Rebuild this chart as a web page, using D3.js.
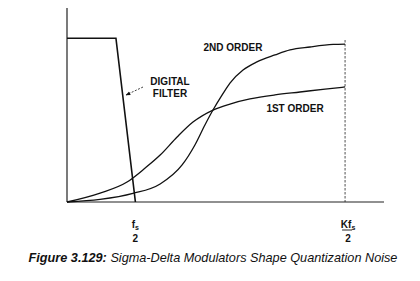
<!DOCTYPE html>
<html><head><meta charset="utf-8">
<script src="https://cdn.jsdelivr.net/npm/d3@7"></script>
<style>body{margin:0;background:#fff}svg{display:block}text{font-family:"Liberation Sans",Arial,sans-serif;fill:#111}</style>
</head><body><svg id="c" width="420" height="281"></svg>
<script>
// normalized frequency (Kfs/2 = 1) and noise amplitude (0..1)
const firstOrderX = [0,0.119,0.216,0.281,0.335,0.396,0.453,0.525,0.586,0.658,0.748,0.838,0.928,1.0];
const firstOrderY = [0,0.046,0.103,0.175,0.242,0.335,0.412,0.474,0.505,0.531,0.552,0.567,0.582,0.593];
const secondOrderX = [0,0.119,0.237,0.335,0.414,0.460,0.496,0.525,0.558,0.586,0.633,0.683,0.748,0.802,0.874,0.957,1.0];
const secondOrderY = [0,0.013,0.044,0.093,0.191,0.294,0.397,0.474,0.552,0.613,0.680,0.722,0.758,0.784,0.799,0.812,0.814];
const filterX = [0,0.176,0.246];
const filterY = [0.844,0.844,0];
const fsHalf = 0.246, kfsHalf = 1.0;
const seriesLabels = ["2ND ORDER","1ST ORDER"];
const filterLabel = ["DIGITAL","FILTER"];
const caption = ["Figure 3.129:"," Sigma-Delta Modulators Shape Quantization Noise"];

const svg = d3.select("#c");
const x = d3.scaleLinear().domain([0,1.14]).range([67,384]);
const y = d3.scaleLinear().domain([0,1]).range([202,8]);

// axes
svg.append("line").attr("x1",x(0)).attr("x2",x(0)).attr("y1",y(1)).attr("y2",y(0)).attr("stroke","#222").attr("stroke-width",1.2);
svg.append("line").attr("x1",x(0)).attr("x2",x(1.14)).attr("y1",y(0)).attr("y2",y(0)).attr("stroke","#222").attr("stroke-width",1.2);
// dashed Kfs/2 line
svg.append("line").attr("x1",x(kfsHalf)).attr("x2",x(kfsHalf)).attr("y1",y(0.835)).attr("y2",y(0)).attr("stroke","#222").attr("stroke-width",0.8).attr("stroke-dasharray","2.5,1.5");

const line = d3.line().x(d=>x(d[0])).y(d=>y(d[1]));
const smooth = d3.line().x(d=>x(d[0])).y(d=>y(d[1])).curve(d3.curveMonotoneX);
svg.append("path").attr("d",line(filterX.map((v,i)=>[v,filterY[i]]))).attr("fill","none").attr("stroke","#111").attr("stroke-width",1.6);
svg.append("path").attr("d",smooth(firstOrderX.map((v,i)=>[v,firstOrderY[i]]))).attr("fill","none").attr("stroke","#111").attr("stroke-width",1.3);
svg.append("path").attr("d",smooth(secondOrderX.map((v,i)=>[v,secondOrderY[i]]))).attr("fill","none").attr("stroke","#111").attr("stroke-width",1.3);

// labels
const lab = (t,px,py,anchor="middle") => svg.append("text").attr("x",px).attr("y",py).attr("text-anchor",anchor).attr("font-size",10).attr("font-weight","bold").text(t);
lab(seriesLabels[0],233,51);
lab(seriesLabels[1],295,112);
lab(filterLabel[0],170,85);
lab(filterLabel[1],170,97);

// arrow
svg.append("defs").append("marker").attr("id","ah").attr("viewBox","0 0 10 10").attr("refX",9).attr("refY",5)
  .attr("markerWidth",6).attr("markerHeight",6).attr("orient","auto")
  .append("path").attr("d","M0,1 L10,5 L0,9 z").attr("fill","#111");
svg.append("line").attr("x1",143).attr("y1",87).attr("x2",126).attr("y2",95).attr("stroke","#111").attr("stroke-width",0.8)
  .attr("stroke-dasharray","2,1.5").attr("marker-end","url(#ah)");

// tick labels
function fracLabel(cx, prefix, bar){
  const t = svg.append("text").attr("x",cx).attr("y",228).attr("text-anchor","middle").attr("font-size",10).attr("font-weight","bold");
  t.append("tspan").text(prefix);
  t.append("tspan").attr("dy",2).attr("font-size",7).text("s");
  svg.append("text").attr("x",cx).attr("y",242).attr("text-anchor","middle").attr("font-size",10).attr("font-weight","bold").text("2");
  if(bar){
    svg.append("line").attr("x1",cx-6).attr("x2",cx+4).attr("y1",230).attr("y2",230).attr("stroke","#111").attr("stroke-width",0.9);
  }
}
fracLabel(x(fsHalf), "f", false);
fracLabel(x(kfsHalf)+3, "Kf", true);

// caption
const cap = svg.append("text").attr("x",213).attr("y",262).attr("text-anchor","middle").attr("font-size",12.7).attr("font-style","italic");
cap.append("tspan").attr("font-weight","bold").text(caption[0]);
cap.append("tspan").text(caption[1]);
</script></body></html>
